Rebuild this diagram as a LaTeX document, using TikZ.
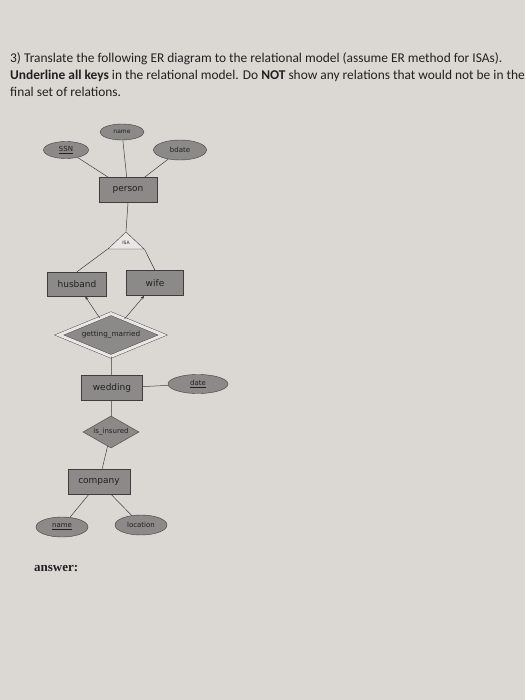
\documentclass[tikz,border=0pt]{standalone}
\usepackage{fontspec}
\setmainfont{Carlito}
\newfontfamily\erfont{DejaVu Sans}
\newfontfamily\answerfont{Liberation Serif}
\usetikzlibrary{arrows.meta,shapes.geometric}

\definecolor{paper}{RGB}{219,215,211}
\definecolor{boxgray}{RGB}{140,138,136}
\definecolor{inkgray}{RGB}{64,62,60}
\definecolor{textink}{RGB}{34,32,32}

\tikzset{
  entity/.style={rectangle, draw=inkgray, fill=boxgray, inner sep=0pt, text=textink,
    font=\erfont\fontsize{9}{9}\selectfont},
  attrib/.style={ellipse, draw=inkgray, fill=boxgray, inner sep=0pt, text=textink,
    font=\erfont\fontsize{7}{7}\selectfont},
  relship/.style={diamond, aspect=2.5, draw=inkgray, fill=boxgray, inner sep=0pt, text=textink,
    font=\erfont\fontsize{7}{7}\selectfont},
  isabox/.style={isosceles triangle, isosceles triangle stretches, shape border rotate=90,
    draw=inkgray, fill=paper!60!white, inner sep=0pt, text=textink,
    font=\erfont\fontsize{4.5}{4.5}\selectfont},
  line/.style={font=\fontsize{13.4}{13.4}\selectfont, anchor=base west, inner sep=0pt, text=textink},
  link/.style={draw=inkgray, line width=0.5pt},
}

\begin{document}
\begin{tikzpicture}[x=1pt, y=-1pt]
    \fill[paper] (0,0) rectangle (525,700);
    \useasboundingbox (0,0) rectangle (525,700);

    % task text
    \node[line] (line1) at (10,63)
        {3) Translate the following ER diagram to the relational model (assume ER method for ISAs).};
    \node[line] (line2) at (10,80)
        {\textbf{Underline all keys} in the relational model. Do \textbf{NOT} show any relations that would not be in the};
    \node[line] (line3) at (10,97)
        {final set of relations.};

    % person and its attributes
    \node[entity, minimum width=58pt, minimum height=25pt] (person) at (128,190) {person};
    \node[attrib, minimum width=45pt, minimum height=17pt] (ssn) at (66,150) {\underline{SSN}};
    \node[attrib, minimum width=44pt, minimum height=16pt, font=\erfont\fontsize{6}{6}\selectfont]
        (pname) at (122,132) {name};
    \node[attrib, minimum width=53pt, minimum height=20pt] (bdate) at (180,150) {bdate};
    \draw[link] (ssn) -- (person);
    \draw[link] (pname) -- (person);
    \draw[link] (bdate) -- (person);

    % ISA
    \node[isabox, minimum width=36pt, minimum height=17pt] (isa) at (126,243) {ISA};
    \node[entity, minimum width=59pt, minimum height=24pt] (husband) at (77,284) {husband};
    \node[entity, minimum width=57pt, minimum height=25pt] (wife) at (155,283) {wife};
    \draw[link] (person.south) -- (isa.apex);
    \draw[link] (isa.left corner) -- (husband.north);
    \draw[link] (isa.right corner) -- (wife.north);

    % marriage
    \node[relship, double=paper!60!white, double distance=3pt, minimum width=104pt, minimum height=43pt,
        font=\erfont\fontsize{7.3}{7.3}\selectfont] (married) at (111,335) {getting\_married};
    \draw[link, -{Stealth[length=4pt, width=3pt]}] (married) -- (husband);
    \draw[link, -{Stealth[length=4pt, width=3pt]}] (married) -- (wife);
    \node[entity, minimum width=61pt, minimum height=25pt] (wedding) at (112,388) {wedding};
    \node[attrib, minimum width=60pt, minimum height=19pt] (date) at (198,384) {\underline{date}};
    \draw[link] (married) -- (wedding);
    \draw[link] (wedding) -- (date);

    % insurance
    \node[relship, minimum width=56pt, minimum height=32pt] (insured) at (111,432) {is\_insured};
    \node[entity, minimum width=62pt, minimum height=25pt] (company) at (99,482) {company};
    \node[attrib, minimum width=52pt, minimum height=20pt] (cname) at (62,527) {\underline{name}};
    \node[attrib, minimum width=52pt, minimum height=20pt] (location) at (141,525) {location};
    \draw[link] (wedding) -- (insured);
    \draw[link] (insured) -- (company);
    \draw[link] (company) -- (cname);
    \draw[link] (company) -- (location);

    \node[anchor=base west, inner sep=0pt, text=textink, font=\answerfont\bfseries\fontsize{13}{13}\selectfont]
        (answer) at (34,571) {answer:};
\end{tikzpicture}
\end{document}
